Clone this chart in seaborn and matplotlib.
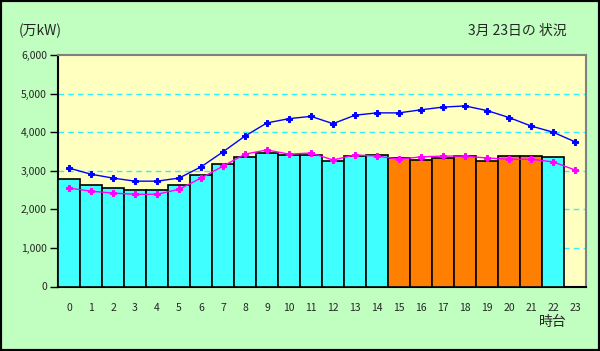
import matplotlib
matplotlib.use("Agg")
import matplotlib.pyplot as plt
import numpy as np
import pandas as pd
import seaborn as sns
from matplotlib.patches import Rectangle

# 時間帯 (0-23時)
hours = list(range(24))

# 実績 (万kW) - 23時台はまだ無し
actual = [2780, 2630, 2550, 2500, 2500, 2630, 2890, 3170, 3360, 3460, 3410,
          3410, 3250, 3380, 3410, 3330, 3280, 3330, 3380, 3250, 3380, 3380,
          3360, np.nan]

# 供給力 / ピーク (青線)
supply = [3070, 2910, 2810, 2730, 2730, 2810, 3100, 3490, 3900, 4240, 4350,
          4410, 4220, 4440, 4500, 4500, 4580, 4650, 4680, 4560, 4380, 4160,
          4000, 3750]

# 予想 (マゼンタ線)
forecast = [2550, 2470, 2420, 2390, 2390, 2520, 2810, 3120, 3430, 3540, 3430,
            3460, 3280, 3410, 3380, 3300, 3360, 3380, 3380, 3330, 3300, 3300,
            3230, 3020]

# オレンジで塗る時間帯
peak_hours = list(range(15, 22))

df = pd.DataFrame({"hour": hours, "actual": actual,
                   "supply": supply, "forecast": forecast})
bar_colors = ['#FF8000' if h in peak_hours else '#40FFFF' for h in hours]

sns.set_style('white')
plt.rcParams['font.family'] = ['Noto Sans CJK JP', 'DejaVu Sans']

fig = plt.figure(figsize=(6, 3.51), dpi=100, facecolor='#C0FFC0')
ax = fig.add_axes([58 / 600, (351 - 286.5) / 351, 528 / 600, 231.5 / 351])
ax.set_facecolor('#FFFFC0')

sns.barplot(data=df, x='hour', y='actual', hue='hour', palette=bar_colors,
            legend=False, width=1.0, edgecolor='black', linewidth=1.2,
            saturation=1, ax=ax, zorder=3)

sns.lineplot(x=df.index, y=df['supply'], color='#0000FF', marker='P',
             markersize=4.5, markeredgecolor='#0000FF', linewidth=1.0,
             ax=ax, zorder=4)
sns.lineplot(x=df.index, y=df['forecast'], color='#FF00FF', marker='P',
             markersize=4.5, markeredgecolor='#FF00FF', linewidth=1.0,
             ax=ax, zorder=4)

ax.set_xlim(-0.5, 23.5)
ax.set_ylim(0, 6000)
ax.set_yticks(range(0, 6001, 1000))
ax.set_yticklabels([f'{v:,}' for v in range(0, 6001, 1000)])
for v in range(1000, 6000, 1000):
    ax.axhline(v, color='#30F0FF', linestyle=(0, (4, 3)), linewidth=1.0, zorder=1)

ax.tick_params(axis='y', direction='out', length=6, width=1, color='black',
               labelsize=7.5, pad=2, left=True)
ax.tick_params(axis='x', length=0, labelsize=7.5, pad=12)
ax.set_xlabel('')
ax.set_ylabel('')

for side in ['left', 'bottom']:
    ax.spines[side].set_color('black')
    ax.spines[side].set_linewidth(1.5)
for side in ['top', 'right']:
    ax.spines[side].set_color('#808080')
    ax.spines[side].set_linewidth(1.5)

fig.text(19 / 600, 1 - 31 / 351, '(万kW)', fontsize=10, va='center', ha='left')
fig.text(567 / 600, 1 - 31 / 351, '3月 23日の 状況', fontsize=10, va='center', ha='right')
fig.text(567 / 600, 1 - 322 / 351, '時台', fontsize=10, va='center', ha='right')

fig.patches.append(Rectangle((0, 0), 1, 1, transform=fig.transFigure,
                             fill=False, edgecolor='black', linewidth=3))

plt.savefig('out.png', dpi=100, facecolor=fig.get_facecolor())
